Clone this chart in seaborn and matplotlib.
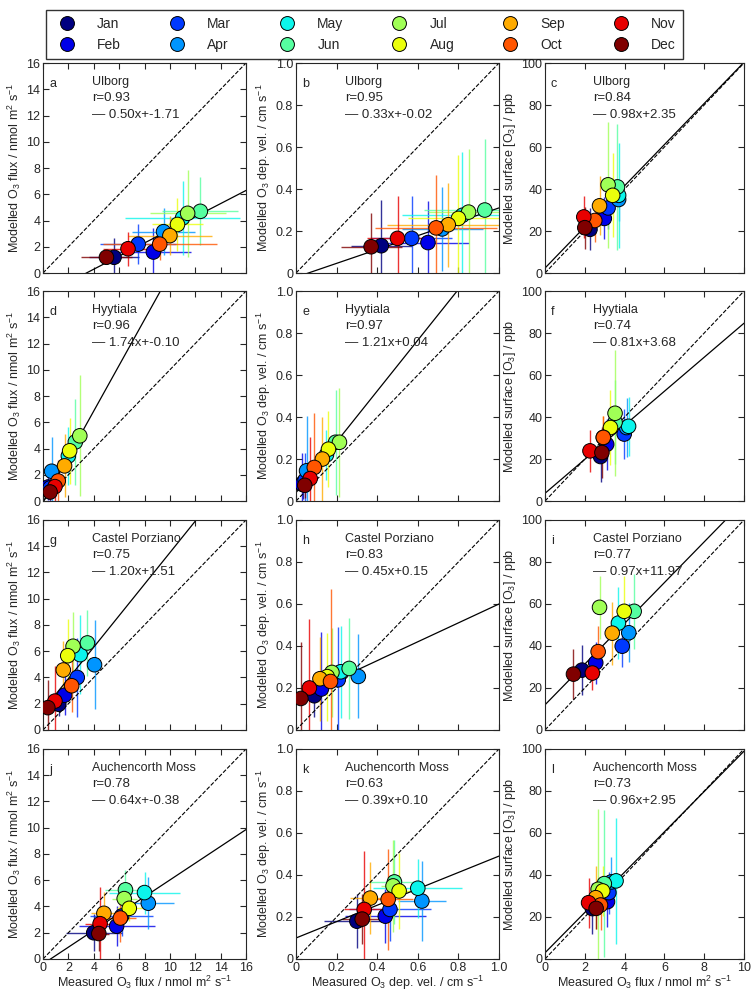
import numpy as np
import pandas as pd
import matplotlib
matplotlib.use("Agg")
import matplotlib.pyplot as plt
import seaborn as sns
from matplotlib.lines import Line2D

months = ["Jan", "Feb", "Mar", "Apr", "May", "Jun",
          "Jul", "Aug", "Sep", "Oct", "Nov", "Dec"]
sites = ["Ulborg", "Hyytiala", "Castel Porziano", "Auchencorth Moss"]
letters = ["a", "b", "c", "d", "e", "f", "g", "h", "i", "j", "k", "l"]

# (x, y, xerr, yerr) per panel, months Jan..Dec
a_x = [5.6, 8.7, 7.5, 9.5, 11.0, 12.4, 11.4, 10.6, 10.0, 9.2, 6.7, 5.0]
a_y = [1.2, 1.6, 2.2, 3.15, 4.2, 4.7, 4.55, 3.7, 2.85, 2.2, 1.85, 1.2]
a_xe = [2.0, 3.0, 3.0, 2.5, 4.5, 3.0, 3.0, 2.0, 3.3, 4.5, 2.0, 2.0]
a_ye = [1.5, 1.8, 1.5, 1.8, 2.8, 2.6, 3.3, 2.0, 1.5, 1.2, 1.3, 0.5]

b_x = [0.42, 0.65, 0.57, 0.72, 0.82, 0.93, 0.85, 0.80, 0.75, 0.69, 0.50, 0.37]
b_y = [0.13, 0.145, 0.165, 0.21, 0.275, 0.30, 0.29, 0.26, 0.23, 0.215, 0.165, 0.125]
b_xe = [0.15, 0.2, 0.2, 0.2, 0.3, 0.3, 0.2, 0.25, 0.3, 0.3, 0.15, 0.15]
b_ye = [0.22, 0.2, 0.2, 0.2, 0.3, 0.34, 0.3, 0.3, 0.2, 0.25, 0.2, 0.16]

c_x = [22.6, 29.8, 31.7, 37.0, 37.0, 36.4, 31.7, 34.0, 27.4, 25.0, 19.5, 20.0]
c_y = [20.8, 26.0, 31.0, 35.0, 37.0, 41.0, 42.0, 37.0, 32.0, 25.0, 26.7, 21.6]
c_xe = [2, 2, 2, 2, 2, 2, 2, 2, 2, 2, 3, 3]
c_ye = [10, 10, 10, 10, 25, 30, 30, 20, 14, 10, 10, 10]

d_x = [0.5, 0.4, 0.56, 0.68, 2.0, 2.55, 2.9, 2.1, 1.7, 1.2, 0.94, 0.56]
d_y = [0.77, 1.07, 1.0, 2.27, 3.44, 4.5, 4.97, 3.83, 2.68, 1.53, 1.1, 0.69]
d_xe = [0.1] * 12
d_ye = [0.6, 1.0, 1.3, 2.6, 2.2, 3.3, 4.6, 2.5, 2.4, 1.6, 1.2, 0.6]

e_x = [0.036, 0.03, 0.045, 0.052, 0.15, 0.195, 0.214, 0.16, 0.13, 0.09, 0.07, 0.043]
e_y = [0.088, 0.08, 0.10, 0.144, 0.22, 0.28, 0.28, 0.247, 0.2, 0.16, 0.107, 0.075]
e_xe = [0.01] * 12
e_ye = [0.08, 0.15, 0.13, 0.26, 0.12, 0.25, 0.26, 0.18, 0.2, 0.26, 0.2, 0.06]

f_x = [27.9, 31.0, 39.8, 41.0, 42.0, 35.2, 35.2, 32.9, 29.3, 29.3, 22.6, 28.6]
f_y = [21.2, 27.0, 31.9, 35.0, 35.6, 37.5, 41.8, 35.0, 30.3, 30.3, 23.9, 23.1]
f_xe = [1] * 12
f_ye = [12, 12, 12, 14, 14, 20, 30, 18, 10, 10, 10, 12]

g_x = [1.24, 1.7, 2.7, 4.06, 2.93, 3.5, 2.37, 1.95, 1.6, 2.26, 0.94, 0.38]
g_y = [1.96, 2.65, 4.0, 4.97, 5.74, 6.63, 6.38, 5.66, 4.57, 3.37, 2.2, 1.7]
g_xe = [0.1] * 12
g_ye = [0.9, 1.5, 3.0, 3.4, 3.0, 2.5, 2.6, 2.8, 2.2, 2.0, 2.7, 2.1]

h_x = [0.09, 0.125, 0.208, 0.307, 0.22, 0.262, 0.177, 0.154, 0.118, 0.17, 0.066, 0.024]
h_y = [0.163, 0.195, 0.239, 0.255, 0.277, 0.293, 0.274, 0.254, 0.244, 0.231, 0.2, 0.15]
h_xe = [0.01] * 12
h_ye = [0.1, 0.27, 0.25, 0.2, 0.22, 0.24, 0.21, 0.21, 0.2, 0.44, 0.33, 0.27]

i_x = [18.6, 25.5, 38.8, 42.1, 36.9, 44.8, 27.4, 39.8, 33.8, 26.7, 23.8, 14.3]
i_y = [28.5, 32.0, 39.9, 46.3, 50.9, 56.5, 58.4, 56.5, 46.1, 37.3, 27.1, 26.6]
i_xe = [1] * 12
i_ye = [12, 10, 10, 14, 17, 18, 15, 17, 15, 12, 8, 12]

j_x = [4.0, 5.8, 6.2, 8.3, 8.0, 6.5, 6.4, 6.8, 4.8, 6.1, 4.5, 4.4]
j_y = [2.0, 2.5, 3.27, 4.25, 5.06, 5.27, 4.6, 3.86, 3.48, 3.12, 2.69, 1.94]
j_xe = [2.2, 3.0, 2.5, 2.0, 2.8, 1.6, 1.0, 1.0, 1.0, 1.2, 1.2, 0.8]
j_ye = [1.4, 1.5, 1.5, 2.0, 1.6, 1.5, 1.2, 1.0, 1.6, 1.8, 2.8, 1.3]

k_x = [0.30, 0.44, 0.463, 0.62, 0.60, 0.485, 0.478, 0.508, 0.366, 0.454, 0.336, 0.326]
k_y = [0.18, 0.204, 0.236, 0.276, 0.337, 0.367, 0.348, 0.324, 0.29, 0.284, 0.236, 0.19]
k_xe = [0.16, 0.2, 0.2, 0.12, 0.22, 0.12, 0.06, 0.06, 0.1, 0.12, 0.1, 0.1]
k_ye = [0.13, 0.13, 0.15, 0.19, 0.14, 0.2, 0.22, 0.18, 0.17, 0.24, 0.28, 0.12]

l_x = [23.8, 31.4, 32.1, 33.3, 35.7, 29.8, 26.7, 29.0, 25.5, 27.9, 21.9, 25.7]
l_y = [24.0, 27.3, 31.6, 36.7, 37.2, 35.9, 33.2, 32.4, 29.2, 25.7, 26.8, 24.1]
l_xe = [1] * 12
l_ye = [12, 12, 10, 12, 30, 35, 38, 12, 15, 12, 12, 10]

r_vals = [0.93, 0.95, 0.84, 0.96, 0.97, 0.74, 0.75, 0.83, 0.77, 0.78, 0.63, 0.73]
slopes = [0.50, 0.33, 0.98, 1.74, 1.21, 0.81, 1.20, 0.45, 0.97, 0.64, 0.39, 0.96]
intercepts = [-1.71, -0.02, 2.35, -0.10, 0.04, 3.68, 1.51, 0.15, 11.97, -0.38, 0.10, 2.95]

panels = [
    (a_x, a_y, a_xe, a_ye), (b_x, b_y, b_xe, b_ye), (c_x, c_y, c_xe, c_ye),
    (d_x, d_y, d_xe, d_ye), (e_x, e_y, e_xe, e_ye), (f_x, f_y, f_xe, f_ye),
    (g_x, g_y, g_xe, g_ye), (h_x, h_y, h_xe, h_ye), (i_x, i_y, i_xe, i_ye),
    (j_x, j_y, j_xe, j_ye), (k_x, k_y, k_xe, k_ye), (l_x, l_y, l_xe, l_ye),
]

sns.set_style("ticks")
plt.rcParams["font.family"] = ["Liberation Sans", "DejaVu Sans"]
plt.rcParams["mathtext.fontset"] = "custom"
plt.rcParams["mathtext.rm"] = "Liberation Sans"

palette = dict(zip(months, plt.cm.jet(np.linspace(0, 1, 12))))

limits = [16, 1.0, 100]
steps = [2, 0.2, 20]
ylabels = [r"Modelled O$_3$ flux / nmol m$^2$ s$^{-1}$",
           r"Modelled O$_3$ dep. vel. / cm s$^{-1}$",
           r"Modelled surface [O$_3$] / ppb"]
xlabels = [r"Measured O$_3$ flux / nmol m$^2$ s$^{-1}$",
           r"Measured O$_3$ dep. vel. / cm s$^{-1}$",
           r"Measured O$_3$ flux / nmol m$^2$ s$^{-1}$"]

fig = plt.figure(figsize=(7.53, 9.91), dpi=100)
lefts = [43 / 753, 296 / 753, 545 / 753]
widths = [203 / 753, 203 / 753, 199 / 753]
bottoms = [0.7245, 0.4944, 0.2634, 0.0323]
h = 210 / 991

for idx, (xs, ys, xe, ye) in enumerate(panels):
    row, col = divmod(idx, 3)
    ax = fig.add_axes([lefts[col], bottoms[row], widths[col], h])
    lim = limits[col]
    df = pd.DataFrame({"x": xs, "y": ys, "month": months})
    for m, xv, yv, xer, yer in zip(months, df["x"], df["y"], xe, ye):
        ax.errorbar(xv, yv, xerr=xer, yerr=yer, fmt="none",
                    ecolor=palette[m], elinewidth=1.0, alpha=0.8, zorder=1)
    t = np.linspace(0, lim, 50)
    ax.plot(t, t, "k--", lw=0.8, zorder=2)
    ax.plot(t, slopes[idx] * t + intercepts[idx], "k-", lw=0.9, zorder=2)
    sns.scatterplot(data=df, x="x", y="y", hue="month", palette=palette,
                    hue_order=months, s=110, edgecolor="black", linewidth=0.7,
                    legend=False, ax=ax, zorder=3)
    ax.set_xlim(0, lim)
    ax.set_ylim(0, lim)
    ticks = np.arange(0, lim + steps[col] / 2, steps[col])
    ax.set_xticks(ticks)
    ax.set_yticks(ticks)
    ax.set_yticklabels(["0"] + [f"{v:g}" if col != 1 else f"{v:.1f}" for v in ticks[1:]])
    ax.tick_params(direction="in", top=True, right=True, labelsize=9, length=4, pad=2)
    ax.set_ylabel(ylabels[col], fontsize=9, labelpad=2)
    if row == 3:
        if col == 2:
            ax.set_xticklabels([f"{v / 10:g}" for v in ticks])
        elif col == 1:
            ax.set_xticklabels(["0"] + [f"{v:.1f}" for v in ticks[1:]])
        else:
            ax.set_xticklabels([f"{v:g}" for v in ticks])
        ax.set_xlabel(xlabels[col], fontsize=9, labelpad=0)
    else:
        ax.set_xticklabels([])
        ax.set_xlabel("")
    ax.text(0.03, 0.93, letters[idx], transform=ax.transAxes, fontsize=9, va="top")
    ax.text(0.24, 0.94, sites[row], transform=ax.transAxes, fontsize=9, va="top")
    ax.text(0.24, 0.86, f"r={r_vals[idx]:.2f}", transform=ax.transAxes, fontsize=9.5, va="top")
    ax.text(0.24, 0.78, f"— {slopes[idx]:.2f}x+{intercepts[idx]:.2f}",
            transform=ax.transAxes, fontsize=9.5, va="top")

handles = [Line2D([], [], marker="o", ls="none", markersize=10,
                  markerfacecolor=palette[m], markeredgecolor="black",
                  markeredgewidth=0.7, label=m) for m in months]
fig.legend(handles=handles, ncol=6, loc="upper center",
           bbox_to_anchor=(0.484, 0.997), fontsize=10, frameon=True,
           fancybox=False, edgecolor="black", columnspacing=3.0,
           handletextpad=1.2, borderpad=0.5)

fig.savefig("out.png", dpi=100)
